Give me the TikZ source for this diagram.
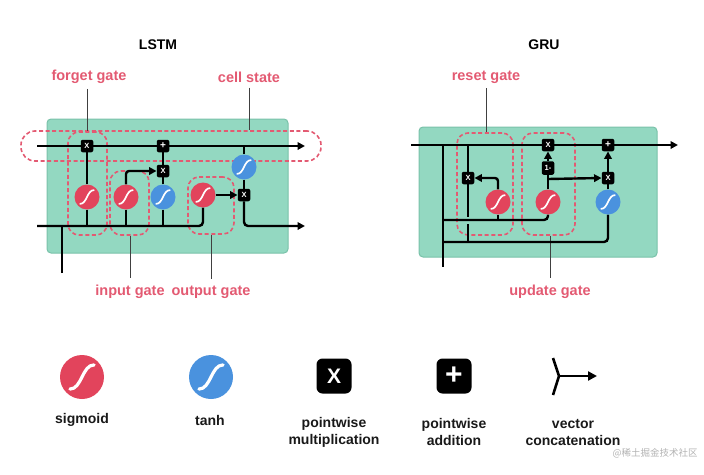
\documentclass[tikz,border=0pt]{standalone}
\usepackage{fontspec}
\setmainfont{Liberation Sans}
\newfontfamily\cjkfont{Noto Sans CJK SC}
\usetikzlibrary{arrows.meta,calc,backgrounds}
\definecolor{cellgreen}{HTML}{93D8C1}
\definecolor{cellborder}{HTML}{79C2A9}
\definecolor{sigred}{HTML}{E2445C}
\definecolor{tanhblue}{HTML}{4A92DE}
\definecolor{gatepink}{HTML}{E35A72}
\tikzset{
  scurve/.style={path picture={
    \draw[white, line width=#1, line cap=round]
      ($(path picture bounding box.center)!0.55!(path picture bounding box.south west)$)
      .. controls ($(path picture bounding box.center)!0.55!(path picture bounding box.south)$)
      and ($(path picture bounding box.center)!0.55!(path picture bounding box.north)$)
      .. ($(path picture bounding box.center)!0.55!(path picture bounding box.north east)$);
  }},
  sig/.style={circle, fill=sigred, minimum size=25pt, inner sep=0pt, scurve=1.7pt},
  tnh/.style={circle, fill=tanhblue, minimum size=25pt, inner sep=0pt, scurve=1.7pt},
  sigbig/.style={circle, fill=sigred, minimum size=44pt, inner sep=0pt, scurve=3.2pt},
  tnhbig/.style={circle, fill=tanhblue, minimum size=44pt, inner sep=0pt, scurve=3.2pt},
  opbox/.style={fill=black, rounded corners=2pt, minimum size=12.5pt, inner sep=0pt,
    text=white, font=\bfseries\fontsize{7.5}{8}\selectfont},
  opbig/.style={fill=black, rounded corners=6pt, minimum size=35pt, inner sep=0pt,
    text=white},
  wire/.style={line width=2.4pt, draw=black},
  arr/.style={-{Triangle[length=7.5pt,width=7.5pt]}},
  cellbox/.style={fill=cellgreen, draw=cellborder, line width=1pt, rounded corners=4pt, inner sep=0pt},
  gatebox/.style={draw=gatepink, line width=1.6pt, dash pattern=on 4pt off 2.6pt,
    rounded corners=11pt, inner sep=0pt},
  leader/.style={draw=black!75, line width=0.9pt},
  lbl/.style={text=gatepink, font=\bfseries\fontsize{14.5}{16}\selectfont, inner sep=0pt},
  ttl/.style={text=black, font=\bfseries\fontsize{14}{16}\selectfont, inner sep=0pt},
  legtxt/.style={text=black!90, font=\bfseries\fontsize{14}{17}\selectfont, inner sep=0pt, align=center},
}
\begin{document}
\begin{tikzpicture}[x=1pt, y=-1pt]
\useasboundingbox (0,0) rectangle (704,474);

% ---------------- titles ----------------
\node[ttl] (tl) at (158,45) {LSTM};
\node[ttl] (tg) at (544,45) {GRU};

% ---------------- LSTM nodes ----------------
\node[opbox] (fX) at (87,146) {X};
\node[opbox] (plus) at (163,146) {\fontsize{10}{10}\selectfont +};
\node[opbox] (iX) at (163,171) {X};
\node[tnh] (ct) at (244,167) {};
\node[opbox] (oX) at (244,195) {X};
\node[sig] (fs) at (87,197) {};
\node[sig] (is) at (126,197) {};
\node[tnh] (th) at (163,197) {};
\node[sig] (os) at (203,195) {};

\coordinate (cin) at (37,146);
\coordinate (cout) at (305,146);
\coordinate (bin) at (37,226);
\coordinate (hout) at (305,226);
\coordinate (xin) at (62,273);

\node[lbl] (fgl) at (89,77) {forget gate};
\node[lbl] (csl) at (249,77) {cell state};
\node[lbl] (igl) at (130,292) {input gate};
\node[lbl] (ogl) at (211,292) {output gate};

% ---------------- GRU nodes ----------------
\node[opbox] (uX) at (548,145) {X};
\node[opbox] (plus2) at (608,145) {\fontsize{10}{10}\selectfont +};
\node[opbox, minimum height=13.5pt] (one) at (548,168) {1-};
\node[opbox] (rX) at (468,178) {X};
\node[opbox] (rX2) at (608,178) {X};
\node[sig] (rs) at (498,202) {};
\node[sig] (us) at (548,202) {};
\node[tnh] (gt) at (608,202) {};

\coordinate (gin) at (411,145);
\coordinate (gout) at (678,145);
\coordinate (gv) at (443,145);
\coordinate (gx) at (443,267);
\coordinate (ga) at (443,220);
\coordinate (gb) at (443,242);
\coordinate (gc) at (548,179);

\node[lbl] (rgl) at (486,77) {reset gate};
\node[lbl] (ugl) at (550,292) {update gate};

% ---------------- background: boxes and wires ----------------
\begin{scope}[on background layer]
  \node[cellbox, minimum width=241pt, minimum height=134pt] (lbox) at (167.5,186) {};
  \node[cellbox, minimum width=238pt, minimum height=130pt] (gbox) at (538,192) {};

  \node[gatebox, minimum width=300pt, minimum height=30pt, rounded corners=14pt] (cbox) at (171,146) {};
  \node[gatebox, minimum width=39pt, minimum height=103pt] (fbox) at (87.5,183.5) {};
  \node[gatebox, minimum width=39pt, minimum height=64pt] (ibox) at (129.5,203) {};
  \node[gatebox, minimum width=46pt, minimum height=57pt] (obox) at (211,205.5) {};
  \node[gatebox, minimum width=56pt, minimum height=102pt] (rbox) at (485,184) {};
  \node[gatebox, minimum width=53pt, minimum height=102pt] (ubox) at (548.5,184) {};

  % leaders
  \draw[leader, shorten <=5pt] (fgl.south -| fbox.north) -- (fbox.north);
  \draw[leader, shorten <=5pt] (csl.south) -- (csl.south |- cbox.north);
  \draw[leader, shorten >=7pt] (ibox.south -| igl.north) -- (igl.north);
  \draw[leader, shorten >=7pt] (obox.south) -- (obox.south |- ogl.north);
  \draw[leader, shorten <=5pt] (rgl.south) -- (rgl.south |- rbox.north);
  \draw[leader, shorten >=7pt] (ubox.south -| ugl.north) -- (ugl.north);

  % LSTM wires
  \draw[wire, arr] (cin) -- (cout);
  \draw[wire, rounded corners=4pt] (bin) -| (os.south);
  \draw[wire] (xin) -- (xin |- bin);
  \draw[wire] (fs.north) -- (fX.south);
  \draw[wire] (fs.south) -- (fs.south |- bin);
  \draw[wire, arr, rounded corners=3pt] (is.north) |- (iX.west);
  \draw[wire] (is.south) -- (is.south |- bin);
  \draw[wire] (th.south) -- (th.south |- bin);
  \draw[wire] (th.north) -- (iX.south);
  \draw[wire] (iX.north) -- (plus.south);
  \draw[wire, arr] (os.east) -- (oX.west);
  \draw[wire] (ct.north |- cin) -- (ct.north);
  \draw[wire] (ct.south) -- (oX.north);
  \draw[wire, arr, rounded corners=4pt] (oX.south) |- (hout);

  % GRU wires
  \draw[wire, arr] (gin) -- (gout);
  \draw[wire] (gv) -- (gx);
  \draw[wire, rounded corners=4pt] (ga) -| (us.south);
  \draw[wire] (rs.south) -- (rs.south |- ga);
  \draw[wire, rounded corners=4pt] (gb) -| (gt.south);
  \draw[wire] (rX.north |- gin) -- (rX.north);
  \draw[wire] (rX.south) -- ($(rX.south |- ga)+(0,-3)$);
  \draw[wire] ($(rX.south |- ga)+(0,4)$) -- (rX.south |- gb);
  \draw[wire, arr, rounded corners=3pt] (rs.north) |- (rX.east);
  \draw[wire] (us.north) -- (one.south);
  \draw[wire, arr] (one.north) -- (uX.south);
  \draw[wire, arr] (gc) -- (rX2.west);
  \draw[wire] (gt.north) -- (rX2.south);
  \draw[wire, arr] (rX2.north) -- (plus2.south);
\end{scope}

% ---------------- legend ----------------
\node[sigbig] (sigL) at (82,377) {};
\node[tnhbig] (tanhL) at (211,377) {};
\node[opbig, font=\bfseries\fontsize{21}{21}\selectfont] (mulL) at (334,376) {X};
\node[opbig, font=\bfseries\fontsize{30}{30}\selectfont] (addL) at (454,376) {+};
\coordinate (ca) at (553,358);
\coordinate (cj) at (559,376);
\coordinate (cb) at (553,395);
\coordinate (ce) at (597,376);
\draw[wire, line width=2.6pt, line join=round] (ca) -- (cj) -- (cb);
\draw[wire, line width=2.6pt, -{Triangle[length=9pt,width=9pt]}] (cj) -- (ce);

\node[legtxt] (sigT) at (82,420) {sigmoid};
\node[legtxt] (tanhT) at (210,420) {tanh};
\node[legtxt] (mulT) at (334,432) {pointwise\\multiplication};
\node[legtxt] (addT) at (454,432) {pointwise\\addition};
\node[legtxt] (catT) at (573,432) {vector\\concatenation};

\node[text=black!30, font=\cjkfont\fontsize{9.5}{10}\selectfont, inner sep=0pt] (wm) at (655,453) {@稀土掘金技术社区};
\end{tikzpicture}
\end{document}
